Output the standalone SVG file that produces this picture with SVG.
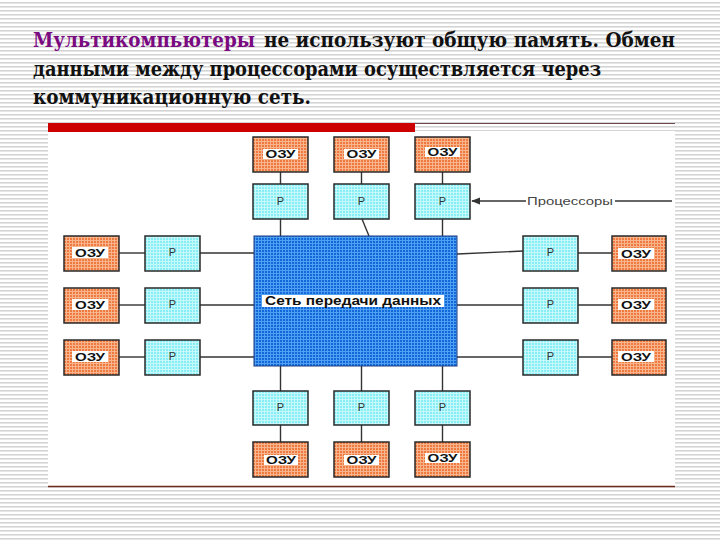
<svg xmlns="http://www.w3.org/2000/svg" width="720" height="540" viewBox="0 0 720 540">
<defs>
<pattern id="stripes" width="8" height="4" patternUnits="userSpaceOnUse">
<rect width="8" height="4" fill="#ffffff"/>
<rect y="2" width="8" height="1.6" fill="#d4d4d4"/>
</pattern>
<pattern id="pOrange" width="3" height="3" patternUnits="userSpaceOnUse">
<rect width="3" height="3" fill="#ee7a40"/>
<rect width="3" height="1" fill="#f8b48c"/>
<rect width="1" height="3" fill="#f8b48c"/>
</pattern>
<pattern id="pCyan" width="3" height="3" patternUnits="userSpaceOnUse">
<rect width="3" height="3" fill="#86eef4"/>
<rect width="3" height="1" fill="#c4f8fb"/>
<rect width="1" height="3" fill="#c4f8fb"/>
</pattern>
<pattern id="pBlue" width="3" height="3" patternUnits="userSpaceOnUse">
<rect width="3" height="3" fill="#1268d8"/>
<rect width="3" height="1" fill="#4fa0f2"/>
<rect width="1" height="3" fill="#4fa0f2"/>
</pattern>
<marker id="arr" viewBox="0 0 10 10" refX="9" refY="5" markerWidth="9" markerHeight="9" orient="auto" markerUnits="userSpaceOnUse">
<path d="M10,5 L0,1 L0,9 Z" fill="#333"/>
</marker>
<style>
.mem rect.b{fill:url(#pOrange);stroke:#2a2a2a;stroke-width:1.5}
.mem rect.l{fill:#ffffff}
.mem text{font-family:"Liberation Sans",Arial,sans-serif;font-weight:bold;font-size:10px;fill:#111;text-anchor:middle}
.cpu rect{fill:url(#pCyan);stroke:#2a2a2a;stroke-width:1.5}
.cpu text{font-family:"Liberation Sans",Arial,sans-serif;font-size:11px;fill:#333;text-anchor:middle}
.conn line{stroke:#333;stroke-width:1.4}
</style>
</defs>
<rect width="720" height="540" fill="url(#stripes)"/>
<rect x="48" y="131" width="627" height="355" fill="#ffffff"/>
<rect x="48" y="123" width="367" height="9" fill="#cc0000"/>
<line x1="415" y1="123.5" x2="675" y2="123.5" stroke="#6a4a4a" stroke-width="1"/>
<line x1="48" y1="486.5" x2="675" y2="486.5" stroke="#6e2a20" stroke-width="1.5"/>

<g id="title" font-family="'DejaVu Serif', serif" font-weight="bold" font-size="20" fill="#111">
<text x="33" y="47" fill="#7a0a80" textLength="222" lengthAdjust="spacingAndGlyphs">Мультикомпьютеры</text>
<text x="264" y="47" textLength="411" lengthAdjust="spacingAndGlyphs">не используют общую память. Обмен</text>
<text x="33" y="76" textLength="568" lengthAdjust="spacingAndGlyphs">данными между процессорами осуществляется через</text>
<text x="33" y="104" textLength="278" lengthAdjust="spacingAndGlyphs">коммуникационную сеть.</text>
</g>

<g id="connectors" class="conn">
<line x1="280.5" y1="172" x2="280.5" y2="184"/>
<line x1="361.5" y1="172" x2="361.5" y2="184"/>
<line x1="442.5" y1="172" x2="442.5" y2="184"/>
<line x1="280.5" y1="219" x2="280.5" y2="236"/>
<line x1="362" y1="219" x2="369" y2="236"/>
<line x1="442.5" y1="219" x2="442.5" y2="236"/>
<line x1="119" y1="253" x2="145" y2="253"/>
<line x1="119" y1="305" x2="145" y2="305"/>
<line x1="119" y1="357" x2="145" y2="357"/>
<line x1="200" y1="253" x2="254" y2="253"/>
<line x1="200" y1="305" x2="254" y2="305"/>
<line x1="200" y1="357" x2="254" y2="357"/>
<line x1="457" y1="254" x2="523" y2="251"/>
<line x1="457" y1="305" x2="523" y2="305"/>
<line x1="457" y1="357" x2="523" y2="357"/>
<line x1="578" y1="253" x2="612" y2="253"/>
<line x1="578" y1="305" x2="612" y2="305"/>
<line x1="578" y1="357" x2="612" y2="357"/>
<line x1="280.5" y1="366" x2="280.5" y2="391"/>
<line x1="361.5" y1="366" x2="361.5" y2="391"/>
<line x1="442.5" y1="366" x2="442.5" y2="391"/>
<line x1="280.5" y1="425" x2="280.5" y2="442"/>
<line x1="361.5" y1="425" x2="361.5" y2="442"/>
<line x1="442.5" y1="425" x2="442.5" y2="442"/>
<line x1="526" y1="201" x2="472" y2="201" stroke="#555" stroke-width="1.2" marker-end="url(#arr)"/>
<line x1="615" y1="201" x2="672" y2="201" stroke="#555" stroke-width="1.2"/>
</g>

<g id="network">
<rect x="254" y="236" width="203" height="130" fill="url(#pBlue)" stroke="#1a3a80" stroke-width="1"/>
<rect x="262" y="295" width="182" height="12" fill="#ffffff"/>
<text x="353" y="305" font-family="Liberation Sans, Arial, sans-serif" font-weight="bold" font-size="12" fill="#111" text-anchor="middle" textLength="176" lengthAdjust="spacingAndGlyphs">Сеть передачи данных</text>
</g>

<g id="label-processors">
<text x="570" y="205" font-family="Liberation Sans, Arial, sans-serif" font-size="11.5" fill="#444" text-anchor="middle" textLength="86" lengthAdjust="spacingAndGlyphs">Процессоры</text>
</g>

<!-- top -->
<g id="mem-t1" class="mem"><rect class="b" x="253" y="137" width="55" height="35"/><rect class="l" x="263" y="149" width="35" height="10"/><text x="280.5" y="158" textLength="30" lengthAdjust="spacingAndGlyphs">ОЗУ</text></g>
<g id="mem-t2" class="mem"><rect class="b" x="334" y="137" width="55" height="35"/><rect class="l" x="344" y="149" width="35" height="10"/><text x="361.5" y="158" textLength="30" lengthAdjust="spacingAndGlyphs">ОЗУ</text></g>
<g id="mem-t3" class="mem"><rect class="b" x="415" y="137" width="55" height="35"/><rect class="l" x="425" y="147" width="35" height="10"/><text x="442.5" y="156" textLength="30" lengthAdjust="spacingAndGlyphs">ОЗУ</text></g>
<g id="cpu-t1" class="cpu"><rect x="253" y="184" width="55" height="35"/><text x="280.5" y="205">Р</text></g>
<g id="cpu-t2" class="cpu"><rect x="334" y="184" width="55" height="35"/><text x="361.5" y="205">Р</text></g>
<g id="cpu-t3" class="cpu"><rect x="415" y="184" width="55" height="35"/><text x="442.5" y="205">Р</text></g>

<!-- left -->
<g id="mem-l1" class="mem"><rect class="b" x="64" y="236" width="55" height="35"/><rect class="l" x="72" y="247" width="36" height="11"/><text x="90" y="256.5" textLength="30" lengthAdjust="spacingAndGlyphs">ОЗУ</text></g>
<g id="mem-l2" class="mem"><rect class="b" x="64" y="288" width="55" height="35"/><rect class="l" x="72" y="299" width="36" height="11"/><text x="90" y="308.5" textLength="30" lengthAdjust="spacingAndGlyphs">ОЗУ</text></g>
<g id="mem-l3" class="mem"><rect class="b" x="64" y="340" width="55" height="35"/><rect class="l" x="72" y="351" width="36" height="11"/><text x="90" y="360.5" textLength="30" lengthAdjust="spacingAndGlyphs">ОЗУ</text></g>
<g id="cpu-l1" class="cpu"><rect x="145" y="236" width="55" height="35"/><text x="172.5" y="256">Р</text></g>
<g id="cpu-l2" class="cpu"><rect x="145" y="288" width="55" height="35"/><text x="172.5" y="308">Р</text></g>
<g id="cpu-l3" class="cpu"><rect x="145" y="340" width="55" height="35"/><text x="172.5" y="360">Р</text></g>

<!-- right -->
<g id="cpu-r1" class="cpu"><rect x="523" y="236" width="55" height="35"/><text x="550.5" y="256">Р</text></g>
<g id="cpu-r2" class="cpu"><rect x="523" y="288" width="55" height="35"/><text x="550.5" y="308">Р</text></g>
<g id="cpu-r3" class="cpu"><rect x="523" y="340" width="55" height="35"/><text x="550.5" y="360">Р</text></g>
<g id="mem-r1" class="mem"><rect class="b" x="612" y="236" width="54" height="35"/><rect class="l" x="618" y="248" width="36" height="11"/><text x="636" y="257.5" textLength="30" lengthAdjust="spacingAndGlyphs">ОЗУ</text></g>
<g id="mem-r2" class="mem"><rect class="b" x="612" y="288" width="54" height="35"/><rect class="l" x="618" y="299" width="36" height="11"/><text x="636" y="308.5" textLength="30" lengthAdjust="spacingAndGlyphs">ОЗУ</text></g>
<g id="mem-r3" class="mem"><rect class="b" x="612" y="340" width="54" height="35"/><rect class="l" x="618" y="351" width="36" height="11"/><text x="636" y="360.5" textLength="30" lengthAdjust="spacingAndGlyphs">ОЗУ</text></g>

<!-- bottom -->
<g id="cpu-b1" class="cpu"><rect x="253" y="391" width="55" height="34"/><text x="280.5" y="411">Р</text></g>
<g id="cpu-b2" class="cpu"><rect x="334" y="391" width="55" height="34"/><text x="361.5" y="411">Р</text></g>
<g id="cpu-b3" class="cpu"><rect x="415" y="391" width="55" height="34"/><text x="442.5" y="411">Р</text></g>
<g id="mem-b1" class="mem"><rect class="b" x="253" y="442" width="55" height="35"/><rect class="l" x="264" y="455" width="34" height="10"/><text x="281" y="464" textLength="30" lengthAdjust="spacingAndGlyphs">ОЗУ</text></g>
<g id="mem-b2" class="mem"><rect class="b" x="334" y="442" width="55" height="35"/><rect class="l" x="344" y="455" width="35" height="10"/><text x="361.5" y="464" textLength="30" lengthAdjust="spacingAndGlyphs">ОЗУ</text></g>
<g id="mem-b3" class="mem"><rect class="b" x="415" y="442" width="55" height="35"/><rect class="l" x="425" y="453" width="35" height="10"/><text x="442.5" y="462" textLength="30" lengthAdjust="spacingAndGlyphs">ОЗУ</text></g>
</svg>
